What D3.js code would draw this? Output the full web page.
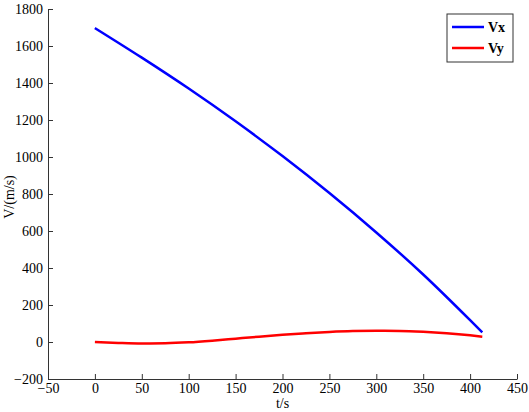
<!DOCTYPE html>
<html><head><meta charset="utf-8">
<script src="https://cdn.jsdelivr.net/npm/d3@7"></script>
<style>body{margin:0;background:#fff}svg{display:block}</style>
</head><body>
<svg id="c" width="529" height="412"></svg>
<script>
const tVx = [0, 50, 100, 150, 200, 250, 300, 350, 400, 413];
const vx  = [1697, 1537, 1370, 1193, 1005, 805, 592, 365, 118, 52];
const tVy = [0, 25, 50, 75, 100, 125, 150, 175, 200, 225, 250, 275, 300, 325, 350, 375, 400, 413];
const vy  = [0, -5, -8, -7, -2, 7, 18, 29, 39, 47, 54, 59, 61, 60, 55, 47, 36, 29];
const xTicks = [-50, 0, 50, 100, 150, 200, 250, 300, 350, 400, 450];
const yTicks = [-200, 0, 200, 400, 600, 800, 1000, 1200, 1400, 1600, 1800];
const seriesNames = ["Vx", "Vy"];
const colors = ["#0000ff", "#ff0000"];
const FONT = "Liberation Serif, Times New Roman, serif";

const svg = d3.select("#c");
const x = d3.scaleLinear().domain([-50, 450]).range([48, 517]);
const y = d3.scaleLinear().domain([-200, 1800]).range([379, 9]);

const xa = svg.append("g").attr("transform", "translate(0,379)")
  .call(d3.axisBottom(x).tickValues(xTicks).tickFormat(d3.format("d")).tickSizeInner(-5).tickSizeOuter(0).tickPadding(4));
const ya = svg.append("g").attr("transform", "translate(48,0)")
  .call(d3.axisLeft(y).tickValues(yTicks).tickFormat(d3.format("d")).tickSizeInner(-5).tickSizeOuter(0).tickPadding(5));
[xa, ya].forEach(a => {
  a.attr("font-family", FONT).attr("font-size", 14);
  a.selectAll("path,line").attr("stroke", "#333").attr("stroke-width", 1);
  a.selectAll("text").attr("fill", "#000");
});

const line = d3.line().x(d => x(d[0])).y(d => y(d[1])).curve(d3.curveMonotoneX);
svg.append("path").datum(tVx.map((t, i) => [t, vx[i]]))
  .attr("d", line).attr("fill", "none").attr("stroke", colors[0]).attr("stroke-width", 2.5);
svg.append("path").datum(tVy.map((t, i) => [t, vy[i]]))
  .attr("d", line).attr("fill", "none").attr("stroke", colors[1]).attr("stroke-width", 2.5);

svg.append("text").attr("x", x(200)).attr("y", 408).attr("text-anchor", "middle")
  .attr("font-family", FONT).attr("font-size", 14).text("t/s");
svg.append("text").attr("transform", "translate(14,197) rotate(-90)").attr("text-anchor", "middle")
  .attr("font-family", FONT).attr("font-size", 14).text("V/(m/s)");

const lg = svg.append("g");
lg.append("rect").attr("x", 447).attr("y", 14).attr("width", 66).attr("height", 48)
  .attr("fill", "#fff").attr("stroke", "#333").attr("stroke-width", 1);
seriesNames.forEach((n, i) => {
  const yy = 27 + i * 21;
  lg.append("line").attr("x1", 452).attr("x2", 484).attr("y1", yy).attr("y2", yy)
    .attr("stroke", colors[i]).attr("stroke-width", 2.5);
  lg.append("text").attr("x", 488).attr("y", yy + 5).attr("font-family", FONT).attr("font-size", 14)
    .attr("font-weight", "bold").text(n);
});
</script>
</body></html>
